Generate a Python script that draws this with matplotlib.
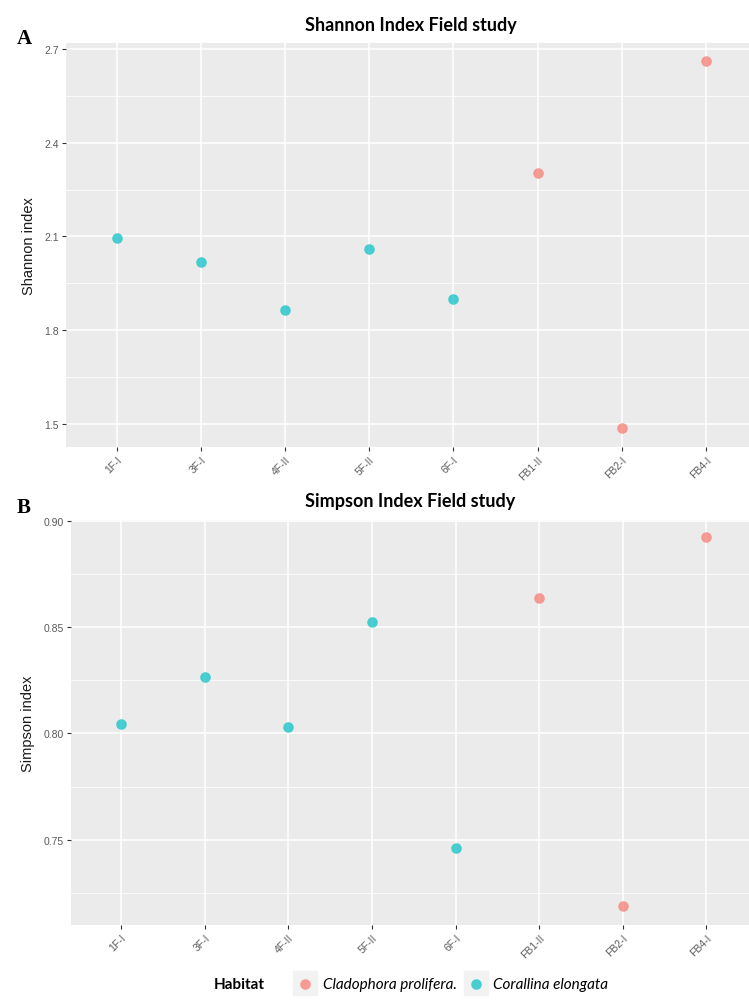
import numpy as np
import matplotlib.pyplot as plt
from matplotlib.lines import Line2D

plt.rcParams['font.family'] = ['Liberation Sans', 'DejaVu Sans']

samples = ['1F-I', '3F-I', '4F-II', '5F-II', '6F-I', 'FB1-II', 'FB2-I', 'FB4-I']
habitat = ['Corallina elongata'] * 5 + ['Cladophora prolifera.'] * 3
shannon = [2.094, 2.018, 1.866, 2.060, 1.900, 2.303, 1.487, 2.662]
simpson = [0.8042, 0.8266, 0.8031, 0.8525, 0.7464, 0.8638, 0.7189, 0.8921]

habitats = ['Cladophora prolifera.', 'Corallina elongata']
colors = {'Cladophora prolifera.': '#F8766D', 'Corallina elongata': '#00BFC4'}


def style_panel(ax, major, minor, ylim, ylabel):
    ax.set_facecolor('#EBEBEB')
    for s in ax.spines.values():
        s.set_visible(False)
    ax.set_xlim(-0.6, 7.51)
    ax.set_ylim(*ylim)
    ax.set_yticks(major)
    ax.set_yticks(minor, minor=True)
    ax.set_xticks(range(len(samples)))
    ax.set_xticklabels(samples, rotation=45, ha='right', rotation_mode='anchor')
    ax.grid(True, which='major', color='white', lw=1.1)
    ax.grid(True, which='minor', axis='y', color='white', lw=0.55)
    ax.set_axisbelow(True)
    ax.tick_params(which='major', length=3, width=0.8, color='#333333',
                   labelsize=7.5, labelcolor='#5A5A5A', pad=2)
    ax.tick_params(which='minor', length=0)
    ax.set_ylabel(ylabel, fontsize=10.5, color='#1A1A1A', labelpad=6)


fig = plt.figure(figsize=(7.49, 10.03), dpi=100)
ax1 = fig.add_axes([0.0881, 0.5533, 0.9119, 0.4028])
ax2 = fig.add_axes([0.0948, 0.0768, 0.9052, 0.4038])

x = np.arange(len(samples))
handles = {}
for h in habitats:
    idx = [i for i, v in enumerate(habitat) if v == h]
    ax1.scatter(x[idx], np.array(shannon)[idx], s=58, color=colors[h], alpha=0.7,
                linewidths=0, zorder=3)
    handles[h] = ax2.scatter(x[idx], np.array(simpson)[idx], s=58, color=colors[h],
                             alpha=0.7, linewidths=0, zorder=3)

style_panel(ax1, [1.5, 1.8, 2.1, 2.4, 2.7], [1.65, 1.95, 2.25, 2.55],
            (1.426, 2.719), 'Shannon index')
style_panel(ax2, [0.75, 0.80, 0.85, 0.90], [0.725, 0.775, 0.825, 0.875],
            (0.710, 0.9003), 'Simpson index')
ax1.set_yticklabels(['1.5', '1.8', '2.1', '2.4', '2.7'])
ax2.set_yticklabels(['0.75', '0.80', '0.85', '0.90'])

fig.text(0.548, 0.975, 'Shannon Index Field study', ha='center', va='center',
         fontsize=13, fontweight='bold', family='Lato')
fig.text(0.548, 0.5, 'Simpson Index Field study', ha='center', va='center',
         fontsize=13, fontweight='bold', family='Lato')
fig.text(0.022, 0.961, 'A', fontsize=15, fontweight='bold', family='Liberation Serif',
         va='center')
fig.text(0.022, 0.494, 'B', fontsize=15, fontweight='bold', family='Liberation Serif',
         va='center')

# legend at the bottom
key_bg = Line2D([], [], marker='s', ms=17, color='#F2F2F2', ls='')
leg = fig.legend([(key_bg, handles[h]) for h in habitats], habitats,
                 loc='center', bbox_to_anchor=(0.603, 0.018), ncol=2, frameon=False,
                 prop={'family': 'Lato', 'style': 'italic', 'size': 11},
                 handlelength=1.3, handletextpad=0.5, columnspacing=0.6,
                 markerscale=1.0)
fig.text(0.285, 0.018, 'Habitat', ha='left', va='center', fontsize=11,
         fontweight='bold', family='Lato')

fig.savefig('out.png', dpi=100)
